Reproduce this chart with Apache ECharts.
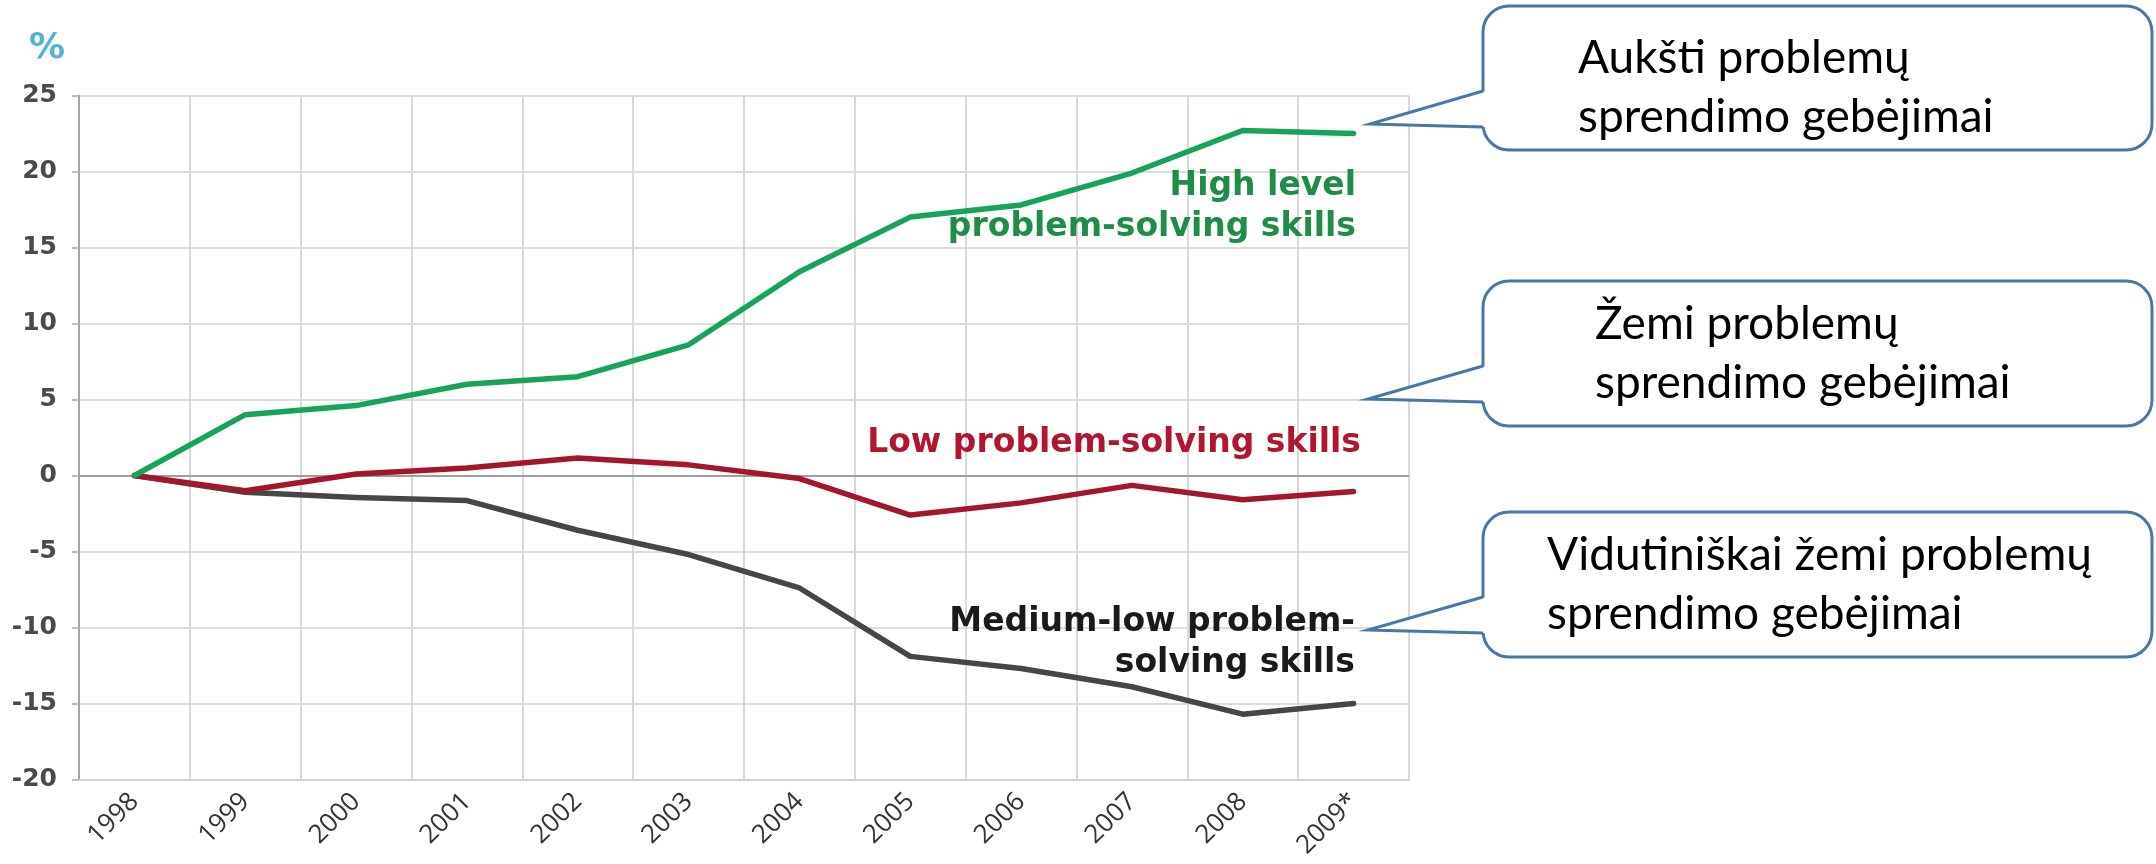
<!DOCTYPE html>
<html>
<head>
<meta charset="utf-8">
<title>Problem-solving skills, change since 1998 (%)</title>
<script src="https://cdn.jsdelivr.net/npm/echarts@6/dist/echarts.min.js"></script>
<style>
  html, body { margin: 0; padding: 0; background: #ffffff; }
  #chart { width: 2156px; height: 864px; }
</style>
</head>
<body>
<div id="chart"></div>
<script>
// Years on the horizontal axis
const years = ['1998', '1999', '2000', '2001', '2002', '2003', '2004', '2005', '2006', '2007', '2008', '2009*'];

// Change since 1998, in percent
const highLevel = [0, 4.0, 4.6, 6.0, 6.5, 8.6, 13.4, 17.0, 17.8, 19.9, 22.7, 22.5];
const lowLevel = [0, -1.0, 0.1, 0.5, 1.15, 0.7, -0.2, -2.6, -1.8, -0.65, -1.6, -1.05];
const mediumLow = [0, -1.1, -1.45, -1.65, -3.6, -5.2, -7.4, -11.9, -12.7, -13.9, -15.7, -15.0];

// Value axis range and step
const yMin = -20;
const yMax = 25;
const yStep = 5;

// Series captions drawn inside the plot
const highCaption = ['High level', 'problem-solving skills'];
const lowCaption = ['Low problem-solving skills'];
const mediumCaption = ['Medium-low problem-', 'solving skills'];

// Lithuanian callout texts
const calloutHigh = ['Aukšti problemų', 'sprendimo gebėjimai'];
const calloutLow = ['Žemi problemų', 'sprendimo gebėjimai'];
const calloutMedium = ['Vidutiniškai žemi problemų', 'sprendimo gebėjimai'];

const GREEN = '#17a35c';
const RED = '#a3162e';
const GREY = '#464646';
const BOX = '#4a76a8';

const chart = echarts.init(document.getElementById('chart'), null, { renderer: 'canvas' });

// Rounded callout box with a pointer on its left side
function callout(lines, box, textX, textShift) {
  const els = [];
  els.push({
    type: 'rect', z: 10,
    shape: { x: box.x, y: box.y, width: box.w, height: box.h, r: 26 },
    style: { fill: '#ffffff', stroke: BOX, lineWidth: 3 }
  });
  const up = box.y + 85, low = box.y + 121, tipY = box.y + 118;
  els.push({
    type: 'polygon', z: 11,
    shape: { points: [[box.x + 3, up], [box.tipX, tipY], [box.x + 3, low]] },
    style: { fill: '#ffffff', stroke: null }
  });
  els.push({
    type: 'polyline', z: 12,
    shape: { points: [[box.x, up], [box.tipX, tipY], [box.x, low]] },
    style: { fill: null, stroke: BOX, lineWidth: 3 }
  });
  const mid = box.y + box.h / 2 + (textShift || 0);
  lines.forEach(function (t, i) {
    els.push({
      type: 'text', z: 13,
      style: {
        text: t, x: textX, y: mid + (i - (lines.length - 1) / 2) * 59,
        fill: '#000000', font: '46px Lato, "Open Sans", sans-serif',
        align: 'left', verticalAlign: 'middle'
      }
    });
  });
  return els;
}

// Bold caption lines, right-aligned
function caption(lines, rightX, firstY, color) {
  return lines.map(function (t, i) {
    return {
      type: 'text', z: 5,
      style: {
        text: t, x: rightX, y: firstY + i * 41,
        fill: color, font: 'bold 33px "DejaVu Sans", Verdana, sans-serif',
        align: 'right', verticalAlign: 'middle'
      }
    };
  });
}

const graphics = [].concat(
  [{
    type: 'text', z: 5,
    style: {
      text: '%', x: 47, y: 49, fill: '#4fb4d8',
      font: 'bold 36px "DejaVu Sans", Verdana, sans-serif',
      align: 'center', verticalAlign: 'middle'
    }
  }],
  caption(highCaption, 1356, 186, '#1f8c47'),
  caption(lowCaption, 1361, 443, '#b0162f'),
  caption(mediumCaption, 1355, 622, '#1a1a1a'),
  callout(calloutHigh, { x: 1483, y: 6, w: 669, h: 144, tipX: 1370 }, 1578, 10),
  callout(calloutLow, { x: 1483, y: 281, w: 669, h: 145, tipX: 1368 }, 1595, 0),
  callout(calloutMedium, { x: 1483, y: 512, w: 669, h: 145, tipX: 1368 }, 1547, 0)
);

function lineSeries(name, data, color, extra) {
  return Object.assign({
    name: name,
    type: 'line',
    data: data,
    symbol: 'none',
    smooth: false,
    lineStyle: { color: color, width: 5.5, join: 'round', cap: 'round' },
    itemStyle: { color: color },
    z: 3
  }, extra || {});
}

chart.setOption({
  backgroundColor: '#ffffff',
  animation: false,
  grid: { left: 79, right: 747, top: 95.5, bottom: 84.5, containLabel: false },
  xAxis: {
    type: 'category',
    data: years,
    boundaryGap: true,
    axisLine: { show: true, onZero: false, lineStyle: { color: '#cfcfcf', width: 2 } },
    axisTick: { show: false },
    axisLabel: {
      rotate: 45, margin: 18, interval: 0,
      color: '#333333', fontSize: 26, fontFamily: '"Open Sans", sans-serif'
    },
    splitLine: { show: true, interval: 0, lineStyle: { color: '#d9d9d9', width: 2 } }
  },
  yAxis: {
    type: 'value',
    min: yMin, max: yMax, interval: yStep,
    axisLine: { show: true, lineStyle: { color: '#a3a3a3', width: 2 } },
    axisTick: { show: true, length: 7, lineStyle: { color: '#bdbdbd', width: 2 } },
    axisLabel: {
      margin: 22, color: '#4a4a4a', fontSize: 25, fontWeight: 'bold',
      fontFamily: '"DejaVu Sans", Verdana, sans-serif'
    },
    splitLine: { show: true, lineStyle: { color: '#dddddd', width: 2 } }
  },
  series: [
    lineSeries('Medium-low problem-solving skills', mediumLow, GREY, {
      markLine: {
        silent: true, symbol: 'none', label: { show: false },
        lineStyle: { color: '#8a8a8a', width: 1.5, type: 'solid' },
        data: [{ yAxis: 0 }], z: 2
      }
    }),
    lineSeries('Low problem-solving skills', lowLevel, RED),
    lineSeries('High level problem-solving skills', highLevel, GREEN)
  ],
  graphic: graphics
});
</script>
</body>
</html>
